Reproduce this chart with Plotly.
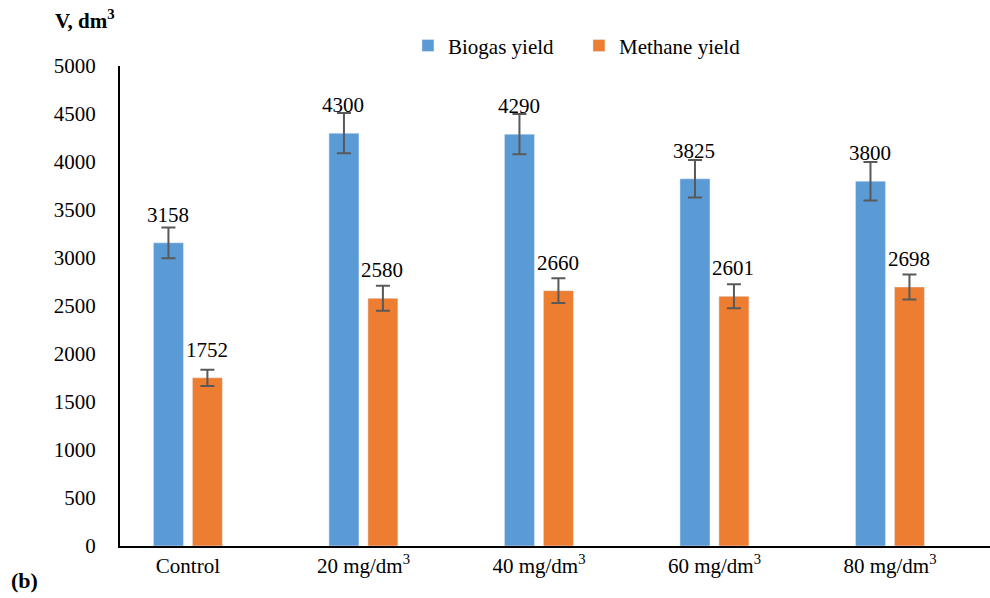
import plotly.graph_objects as go

categories = ["Control", "20 mg/dm<sup>3</sup>", "40 mg/dm<sup>3</sup>", "60 mg/dm<sup>3</sup>", "80 mg/dm<sup>3</sup>"]
biogas = [3158, 4300, 4290, 3825, 3800]
methane = [1752, 2580, 2660, 2601, 2698]
biogas_err = [160, 210, 210, 195, 200]
methane_err = [85, 130, 130, 125, 130]
y_ticks = [0, 500, 1000, 1500, 2000, 2500, 3000, 3500, 4000, 4500, 5000]

FONT = "Liberation Serif"
BLUE = "#5B9BD5"
ORANGE = "#ED7D31"
ERRC = "#595959"

fig = go.Figure()
fig.add_trace(go.Bar(
    name="Biogas yield", x=categories, y=biogas, marker_color=BLUE,
    error_y=dict(type="data", array=biogas_err, color=ERRC, thickness=2, width=7),
))
fig.add_trace(go.Bar(
    name="Methane yield", x=categories, y=methane, marker_color=ORANGE,
    error_y=dict(type="data", array=methane_err, color=ERRC, thickness=2, width=7),
))

for cat, b, m in zip(categories, biogas, methane):
    fig.add_annotation(x=cat, y=b, text=str(b), showarrow=False, xshift=-20, yshift=14,
                       yanchor="bottom", font=dict(family=FONT, size=21, color="black"))
    fig.add_annotation(x=cat, y=m, text=str(m), showarrow=False, xshift=19, yshift=14,
                       yanchor="bottom", font=dict(family=FONT, size=21, color="black"))

fig.add_annotation(xref="paper", yref="paper", x=-0.077, y=1.096, text="<b>V, dm<sup>3</sup></b>",
                   showarrow=False, xanchor="left", yanchor="middle",
                   font=dict(family=FONT, size=21, color="black"))
fig.add_annotation(xref="paper", yref="paper", x=-0.128, y=-0.072, text="<b>(b)</b>",
                   showarrow=False, xanchor="left", yanchor="middle",
                   font=dict(family=FONT, size=22, color="black"))

fig.update_layout(
    width=990, height=598,
    margin=dict(l=120, r=0, t=66, b=52),
    paper_bgcolor="white", plot_bgcolor="white",
    barmode="group", bargap=0.556, bargroupgap=0.23,
    font=dict(family=FONT, size=21, color="black"),
    showlegend=True,
    legend=dict(orientation="h", x=0.331, y=1.042, xanchor="left", yanchor="middle",
                font=dict(family=FONT, size=21), itemwidth=30, tracegroupgap=0,
                entrywidth=126, entrywidthmode="pixels",
                bgcolor="rgba(0,0,0,0)"),
    xaxis=dict(range=[-0.387, 4.57], showline=True, linecolor="black", linewidth=2,
               ticks="", showgrid=False, tickfont=dict(family=FONT, size=21)),
    yaxis=dict(range=[0, 5000], tickvals=y_ticks, showline=True, linecolor="black", linewidth=2,
               ticks="", showgrid=False, zeroline=False, ticklabelstandoff=18,
               tickfont=dict(family=FONT, size=21)),
)

fig.write_html("out.html")
